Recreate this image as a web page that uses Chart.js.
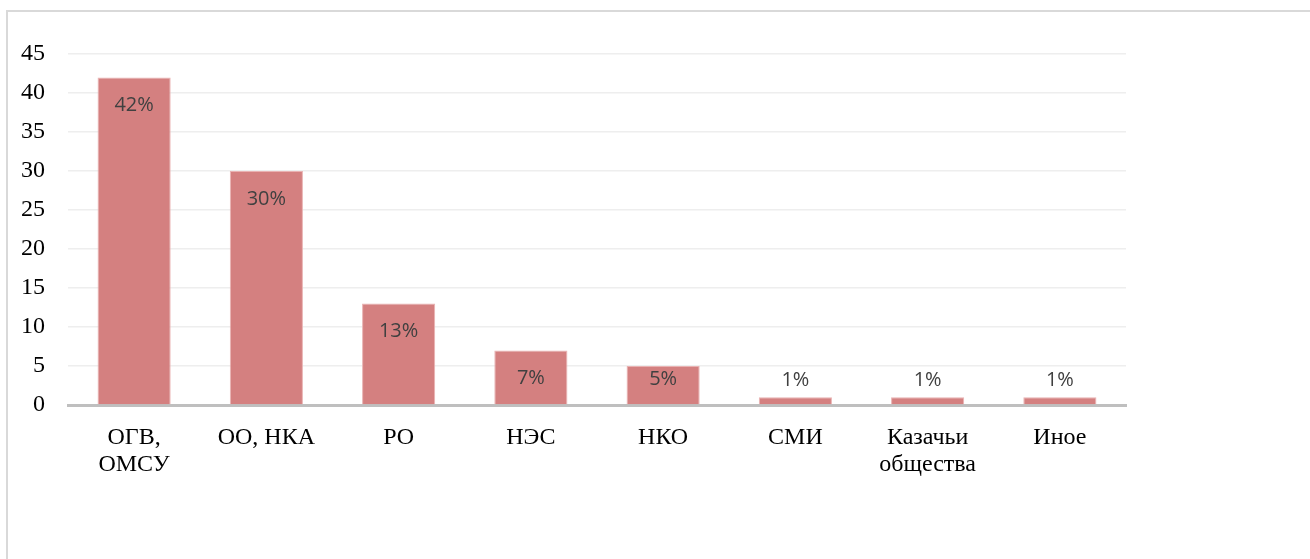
<!DOCTYPE html>
<html>
<head>
<meta charset="utf-8">
<script src="https://cdn.jsdelivr.net/npm/chart.js@4.4.1/dist/chart.umd.min.js"></script>
<style>
  html, body { margin: 0; padding: 0; background: #fff; overflow: hidden; }
  #wrap { position: relative; width: 1310px; height: 559px; }
  #frame { position: absolute; left: 6px; top: 10px; width: 1400px; height: 700px; border: 2px solid #d9d9d9; box-sizing: border-box; }
  canvas { position: absolute; left: 0; top: 0; }
</style>
</head>
<body>
<div id="wrap">
  <div id="frame"></div>
  <canvas id="chart" width="1310" height="559"></canvas>
</div>
<script>
// Categories (multi-line labels as arrays)
const categories = [
  ['ОГВ,', 'ОМСУ'],
  'ОО, НКА',
  'РО',
  'НЭС',
  'НКО',
  'СМИ',
  ['Казачьи', 'общества'],
  'Иное'
];
const values = [42, 30, 13, 7, 5, 1, 1, 1];
const percentLabels = ['42%', '30%', '13%', '7%', '5%', '1%', '1%', '1%'];

// Excel-like "inside end" data labels
const barLabels = {
  id: 'barLabels',
  afterDatasetsDraw(chart) {
    const ctx = chart.ctx;
    const meta = chart.getDatasetMeta(0);
    const base = chart.scales.y.getPixelForValue(0);
    ctx.save();
    ctx.font = '20px "Open Sans", "Noto Sans", sans-serif';
    ctx.fillStyle = '#404040';
    ctx.textAlign = 'center';
    ctx.textBaseline = 'middle';
    meta.data.forEach((bar, i) => {
      const top = bar.y;
      let y;
      if (base - top < 30) {
        y = top - 17;
      } else {
        y = Math.min(top + 28, base - 26);
      }
      ctx.fillText(percentLabels[i], bar.x, y);
    });
    ctx.restore();
  }
};

new Chart(document.getElementById('chart').getContext('2d'), {
  type: 'bar',
  data: {
    labels: categories,
    datasets: [{
      data: values,
      backgroundColor: '#d48080',
      borderColor: '#e9b2b2',
      borderWidth: 1,
      categoryPercentage: 1,
      barPercentage: 0.553
    }]
  },
  options: {
    responsive: false,
    animation: false,
    layout: { padding: { top: 54, right: 184, bottom: 0, left: 0 } },
    plugins: {
      legend: { display: false },
      tooltip: { enabled: false }
    },
    scales: {
      x: {
        grid: { display: false, drawTicks: false },
        border: { color: '#bfbfbf', width: 3 },
        ticks: {
          color: '#000',
          padding: 19,
          maxRotation: 0,
          autoSkip: false,
          font: { family: '"Liberation Serif", "Times New Roman", serif', size: 24, lineHeight: 1.13 }
        },
        afterFit(scale) { scale.height = 154; }
      },
      y: {
        min: 0,
        max: 45,
        ticks: {
          stepSize: 5,
          color: '#000',
          padding: 23,
          font: { family: '"Liberation Serif", "Times New Roman", serif', size: 24 }
        },
        grid: { color: '#eeeeee', lineWidth: 1.5, drawTicks: false },
        border: { display: false },
        afterFit(scale) { scale.width = 68; }
      }
    }
  },
  plugins: [barLabels]
});
</script>
</body>
</html>
